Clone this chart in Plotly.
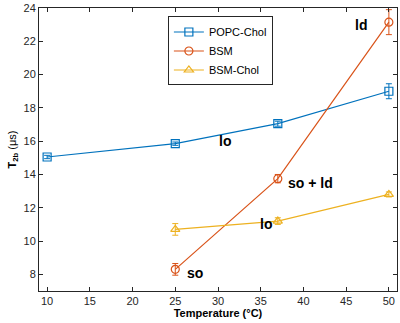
import plotly.graph_objects as go

temps_popc = [10, 25, 37, 50]
popc_vals = [15.05, 15.85, 17.05, 19.0]
popc_err = [0.1, 0.1, 0.15, 0.45]

temps_bsm = [25, 37, 50]
bsm_vals = [8.3, 13.75, 23.15]
bsm_err = [0.35, 0.25, 0.75]

temps_bsmchol = [25, 37, 50]
bsmchol_vals = [10.7, 11.2, 12.8]
bsmchol_err = [0.35, 0.2, 0.15]

labels = ["ld", "lo", "so + ld", "lo", "so"]
label_x = [46.7, 30.8, 40.8, 35.6, 27.3]
label_y = [23.0, 16.0, 13.5, 11.0, 8.1]

series = [
    ("POPC-Chol", temps_popc, popc_vals, popc_err, "#0072BD", "square-open"),
    ("BSM", temps_bsm, bsm_vals, bsm_err, "#D95319", "circle-open"),
    ("BSM-Chol", temps_bsmchol, bsmchol_vals, bsmchol_err, "#EDB120", "triangle-up-open"),
]

fig = go.Figure()
for name, x, y, e, c, sym in series:
    fig.add_trace(go.Scatter(
        x=x, y=y, name=name, mode="lines+markers",
        line=dict(color=c, width=1.2),
        marker=dict(symbol=sym, size=8, color=c, line=dict(color=c, width=1.2)),
        error_y=dict(type="data", array=e, visible=True, color=c, thickness=1, width=3),
    ))

for t, lx, ly in zip(labels, label_x, label_y):
    fig.add_annotation(x=lx, y=ly, text="<b>%s</b>" % t, showarrow=False,
                       font=dict(size=14, color="black", family="Liberation Sans, Arial"))

axis_common = dict(showline=True, linecolor="#262626", linewidth=1, mirror="ticks",
                   ticks="inside", ticklen=4, tickcolor="#262626", showgrid=False,
                   zeroline=False, tickfont=dict(size=11, color="#262626"),
                   ticklabeloverflow="allow")

fig.update_layout(
    width=400, height=323,
    margin=dict(l=39, r=2, t=6, b=32),
    paper_bgcolor="white", plot_bgcolor="white",
    font=dict(family="Liberation Sans, Arial", color="#262626", size=11),
    showlegend=True,
    legend=dict(x=0.36, y=0.97, xanchor="left", yanchor="top",
                bordercolor="#262626", borderwidth=1, bgcolor="white",
                font=dict(size=11, color="black"), tracegroupgap=0,
                itemwidth=30),
    xaxis=dict(range=[9.05, 50.95], tickvals=[10, 15, 20, 25, 30, 35, 40, 45, 50],
               title=dict(text="<b>Temperature (°C)</b>", font=dict(size=11, color="black"), standoff=2),
               **axis_common),
    yaxis=dict(range=[7, 24.0001], tickvals=[8, 10, 12, 14, 16, 18, 20, 22, 24],
               title=dict(text="<b>T<sub>2b</sub></b> (μs)", font=dict(size=11, color="black"), standoff=4),
               **axis_common),
)

fig.write_html("out.html", config={"displayModeBar": False},
               post_script="document.body.style.margin='0';document.body.style.overflow='hidden';")
